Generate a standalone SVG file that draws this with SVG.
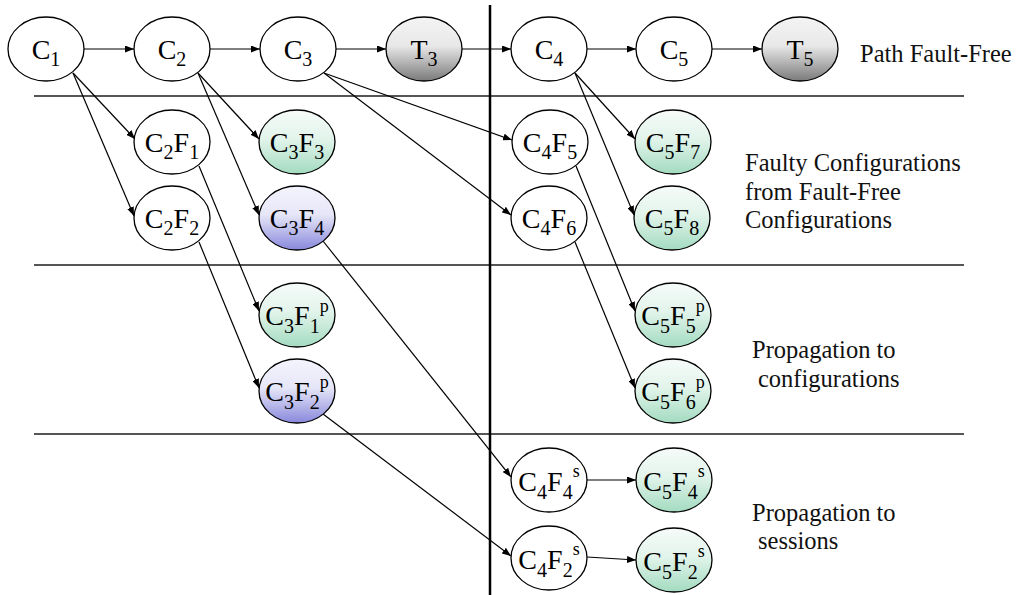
<svg xmlns="http://www.w3.org/2000/svg" width="1016" height="595" viewBox="0 0 1016 595">
<style>
.n{stroke:#000;stroke-width:1.3}
.w{fill:#fff}
.g{fill:url(#gg)}
.b{fill:url(#gb)}
.k{fill:url(#gk)}
.t{font-family:'Liberation Serif','Times New Roman',serif;font-size:28px;fill:#000;text-anchor:middle}
.sb{font-size:20px}
.sp{font-size:18px}
.lab{font-family:'Liberation Serif','Times New Roman',serif;font-size:24.5px;fill:#111}
.sep{stroke:#555;stroke-width:2}
.e{stroke:#000;stroke-width:1.2;fill:none;marker-end:url(#ah)}
</style>
<defs>
<linearGradient id="gg" x1="0" y1="0" x2="0" y2="1">
<stop offset="0" stop-color="#f6fbf9"/><stop offset="0.45" stop-color="#e2f4eb"/><stop offset="1" stop-color="#a3dbc0"/>
</linearGradient>
<linearGradient id="gb" x1="0" y1="0" x2="0" y2="1">
<stop offset="0" stop-color="#f4f4fd"/><stop offset="0.45" stop-color="#e6e6f8"/><stop offset="1" stop-color="#8888dc"/>
</linearGradient>
<linearGradient id="gk" x1="0" y1="0" x2="0" y2="1">
<stop offset="0" stop-color="#f4f4f4"/><stop offset="0.45" stop-color="#e8e8e8"/><stop offset="1" stop-color="#7a7a7a"/>
</linearGradient>
<marker id="ah" markerUnits="userSpaceOnUse" markerWidth="9" markerHeight="7" refX="9" refY="3.5" orient="auto">
<path d="M0,0 L9,3.5 L0,7 z" fill="#000"/>
</marker>
</defs>
<rect width="1016" height="595" fill="#fff"/>
<g id="separators">
<line class="sep" x1="34" y1="96" x2="964" y2="96"/>
<line class="sep" x1="34" y1="265" x2="964" y2="265"/>
<line class="sep" x1="34" y1="434" x2="964" y2="434"/>
<line x1="490" y1="5" x2="490" y2="595" stroke="#000" stroke-width="2.5"/>
</g>
<g id="connectors">
<line class="e" x1="84" y1="49" x2="134" y2="49"/>
<line class="e" x1="210" y1="49" x2="260" y2="49"/>
<line class="e" x1="336" y1="49" x2="386" y2="49"/>
<line class="e" x1="462" y1="49" x2="511" y2="49"/>
<line class="e" x1="587" y1="49" x2="636" y2="49"/>
<line class="e" x1="712" y1="49" x2="762" y2="49"/>
<line class="e" x1="73" y1="73" x2="135" y2="139"/>
<line class="e" x1="73" y1="73" x2="134" y2="216"/>
<line class="e" x1="198" y1="73" x2="259" y2="139"/>
<line class="e" x1="198" y1="73" x2="259" y2="215"/>
<line class="e" x1="324" y1="73" x2="512" y2="140"/>
<line class="e" x1="324" y1="73" x2="511" y2="215"/>
<line class="e" x1="575" y1="73" x2="635" y2="139"/>
<line class="e" x1="575" y1="73" x2="634" y2="215"/>
<line class="e" x1="199" y1="166" x2="259" y2="311"/>
<line class="e" x1="199" y1="242" x2="259" y2="388"/>
<line class="e" x1="323" y1="241" x2="511" y2="477"/>
<line class="e" x1="323" y1="414" x2="511" y2="556"/>
<line class="e" x1="576" y1="166" x2="635" y2="311"/>
<line class="e" x1="575" y1="242" x2="635" y2="388"/>
<line class="e" x1="587" y1="480" x2="636" y2="480"/>
<line class="e" x1="587" y1="557" x2="636" y2="560"/>
</g>
<g id="C1"><ellipse class="n w" cx="46" cy="49" rx="38" ry="32"/><text class="t" x="46" y="59">C<tspan class="sb" dy="7">1</tspan></text></g>
<g id="C2"><ellipse class="n w" cx="172" cy="49" rx="38" ry="32"/><text class="t" x="172" y="59">C<tspan class="sb" dy="7">2</tspan></text></g>
<g id="C3"><ellipse class="n w" cx="298" cy="49" rx="38" ry="32"/><text class="t" x="298" y="59">C<tspan class="sb" dy="7">3</tspan></text></g>
<g id="T3"><ellipse class="n k" cx="424" cy="49" rx="38" ry="32"/><text class="t" x="424" y="59">T<tspan class="sb" dy="7">3</tspan></text></g>
<g id="C4"><ellipse class="n w" cx="549" cy="49" rx="38" ry="32"/><text class="t" x="549" y="59">C<tspan class="sb" dy="7">4</tspan></text></g>
<g id="C5"><ellipse class="n w" cx="674" cy="49" rx="38" ry="32"/><text class="t" x="674" y="59">C<tspan class="sb" dy="7">5</tspan></text></g>
<g id="T5"><ellipse class="n k" cx="800" cy="49" rx="38" ry="32"/><text class="t" x="800" y="59">T<tspan class="sb" dy="7">5</tspan></text></g>

<g id="C2F1"><ellipse class="n w" cx="172" cy="142" rx="38" ry="32"/><text class="t" x="172" y="152">C<tspan class="sb" dy="7">2</tspan><tspan dy="-7">F</tspan><tspan class="sb" dy="7">1</tspan></text></g>
<g id="C3F3"><ellipse class="n g" cx="297" cy="142" rx="38" ry="32"/><text class="t" x="297" y="152">C<tspan class="sb" dy="7">3</tspan><tspan dy="-7">F</tspan><tspan class="sb" dy="7">3</tspan></text></g>
<g id="C4F5"><ellipse class="n w" cx="550" cy="142" rx="38" ry="32"/><text class="t" x="550" y="152">C<tspan class="sb" dy="7">4</tspan><tspan dy="-7">F</tspan><tspan class="sb" dy="7">5</tspan></text></g>
<g id="C5F7"><ellipse class="n g" cx="673" cy="142" rx="38" ry="32"/><text class="t" x="673" y="152">C<tspan class="sb" dy="7">5</tspan><tspan dy="-7">F</tspan><tspan class="sb" dy="7">7</tspan></text></g>

<g id="C2F2"><ellipse class="n w" cx="172" cy="218" rx="38" ry="32"/><text class="t" x="172" y="228">C<tspan class="sb" dy="7">2</tspan><tspan dy="-7">F</tspan><tspan class="sb" dy="7">2</tspan></text></g>
<g id="C3F4"><ellipse class="n b" cx="297" cy="218" rx="38" ry="32"/><text class="t" x="297" y="228">C<tspan class="sb" dy="7">3</tspan><tspan dy="-7">F</tspan><tspan class="sb" dy="7">4</tspan></text></g>
<g id="C4F6"><ellipse class="n w" cx="549" cy="218" rx="38" ry="32"/><text class="t" x="549" y="228">C<tspan class="sb" dy="7">4</tspan><tspan dy="-7">F</tspan><tspan class="sb" dy="7">6</tspan></text></g>
<g id="C5F8"><ellipse class="n g" cx="672" cy="218" rx="38" ry="32"/><text class="t" x="672" y="228">C<tspan class="sb" dy="7">5</tspan><tspan dy="-7">F</tspan><tspan class="sb" dy="7">8</tspan></text></g>

<g id="C3F1p"><ellipse class="n g" cx="297" cy="315" rx="38" ry="32"/><text class="t" x="297" y="325">C<tspan class="sb" dy="8">3</tspan><tspan dy="-8">F</tspan><tspan class="sb" dy="8">1</tspan><tspan class="sp" dy="-21">p</tspan></text></g>
<g id="C5F5p"><ellipse class="n g" cx="673" cy="315" rx="38" ry="32"/><text class="t" x="673" y="325">C<tspan class="sb" dy="8">5</tspan><tspan dy="-8">F</tspan><tspan class="sb" dy="8">5</tspan><tspan class="sp" dy="-21">p</tspan></text></g>
<g id="C3F2p"><ellipse class="n b" cx="297" cy="391" rx="38" ry="32"/><text class="t" x="297" y="401">C<tspan class="sb" dy="8">3</tspan><tspan dy="-8">F</tspan><tspan class="sb" dy="8">2</tspan><tspan class="sp" dy="-21">p</tspan></text></g>
<g id="C5F6p"><ellipse class="n g" cx="673" cy="391" rx="38" ry="32"/><text class="t" x="673" y="401">C<tspan class="sb" dy="8">5</tspan><tspan dy="-8">F</tspan><tspan class="sb" dy="8">6</tspan><tspan class="sp" dy="-21">p</tspan></text></g>

<g id="C4F4s"><ellipse class="n w" cx="549" cy="480" rx="38" ry="32"/><text class="t" x="549" y="491">C<tspan class="sb" dy="8">4</tspan><tspan dy="-8">F</tspan><tspan class="sb" dy="8">4</tspan><tspan class="sp" dy="-22">s</tspan></text></g>
<g id="C5F4s"><ellipse class="n g" cx="674" cy="480" rx="38" ry="32"/><text class="t" x="674" y="491">C<tspan class="sb" dy="8">5</tspan><tspan dy="-8">F</tspan><tspan class="sb" dy="8">4</tspan><tspan class="sp" dy="-22">s</tspan></text></g>
<g id="C4F2s"><ellipse class="n w" cx="549" cy="558" rx="38" ry="32"/><text class="t" x="549" y="569">C<tspan class="sb" dy="8">4</tspan><tspan dy="-8">F</tspan><tspan class="sb" dy="8">2</tspan><tspan class="sp" dy="-22">s</tspan></text></g>
<g id="C5F2s"><ellipse class="n g" cx="674" cy="560" rx="38" ry="32"/><text class="t" x="674" y="571">C<tspan class="sb" dy="8">5</tspan><tspan dy="-8">F</tspan><tspan class="sb" dy="8">2</tspan><tspan class="sp" dy="-22">s</tspan></text></g>

<g id="labels">
<text class="lab" x="860" y="62">Path Fault-Free</text>
<text class="lab" x="745" y="171">Faulty Configurations</text>
<text class="lab" x="745" y="200">from Fault-Free</text>
<text class="lab" x="745" y="228">Configurations</text>
<text class="lab" x="752" y="358">Propagation to</text>
<text class="lab" x="758" y="387">configurations</text>
<text class="lab" x="752" y="521">Propagation to</text>
<text class="lab" x="758" y="549">sessions</text>
</g>
</svg>
